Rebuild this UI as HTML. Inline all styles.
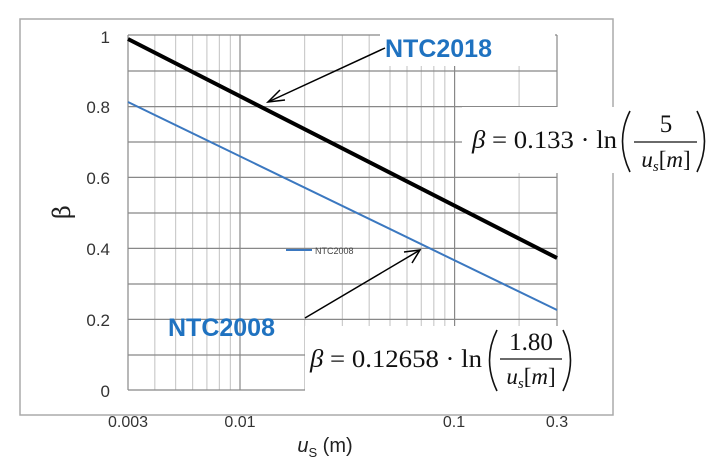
<!DOCTYPE html><html><head><style>body{margin:0;background:#fff}svg{display:block}</style></head><body>
<svg width="720" height="472" xmlns="http://www.w3.org/2000/svg" font-family="Liberation Sans, sans-serif">
<rect x="20" y="19" width="593" height="396" fill="#fff" stroke="#aaa" stroke-width="1.5"/>
<g stroke="#ccc" stroke-width="1.2">
<line x1="154.8" y1="35" x2="154.8" y2="390"/><line x1="175.6" y1="35" x2="175.6" y2="390"/><line x1="192.6" y1="35" x2="192.6" y2="390"/><line x1="206.9" y1="35" x2="206.9" y2="390"/><line x1="219.4" y1="35" x2="219.4" y2="390"/><line x1="230.4" y1="35" x2="230.4" y2="390"/>
<line x1="304.6" y1="35" x2="304.6" y2="390"/><line x1="342.4" y1="35" x2="342.4" y2="390"/><line x1="369.2" y1="35" x2="369.2" y2="390"/><line x1="390" y1="35" x2="390" y2="390"/><line x1="407" y1="35" x2="407" y2="390"/><line x1="421.3" y1="35" x2="421.3" y2="390"/><line x1="433.8" y1="35" x2="433.8" y2="390"/><line x1="444.8" y1="35" x2="444.8" y2="390"/>
<line x1="519.1" y1="35" x2="519.1" y2="390"/>
</g>
<g stroke="#888" stroke-width="1.2">
<line x1="240" y1="35" x2="240" y2="390"/><line x1="454.6" y1="35" x2="454.6" y2="390"/><line x1="128" y1="35" x2="128" y2="390"/><line x1="557" y1="35" x2="557" y2="390"/>
<line x1="128" y1="35" x2="557" y2="35"/><line x1="128" y1="71" x2="557" y2="71"/><line x1="128" y1="106.6" x2="557" y2="106.6"/><line x1="128" y1="142" x2="557" y2="142"/><line x1="128" y1="177.4" x2="557" y2="177.4"/><line x1="128" y1="213" x2="557" y2="213"/><line x1="128" y1="248.4" x2="557" y2="248.4"/><line x1="128" y1="284" x2="557" y2="284"/><line x1="128" y1="319.4" x2="557" y2="319.4"/><line x1="128" y1="355" x2="557" y2="355"/><line x1="128" y1="390" x2="557" y2="390"/>
</g>
<g font-size="17" fill="#333" text-anchor="end">
<text x="110" y="43">1</text><text x="110" y="113">0.8</text><text x="110" y="184">0.6</text><text x="110" y="255">0.4</text><text x="110" y="326">0.2</text><text x="110" y="397">0</text></g>
<g font-size="16" fill="#333" text-anchor="middle">
<text x="128" y="427">0.003</text><text x="240" y="427">0.01</text><text x="454" y="427">0.1</text><text x="557" y="427">0.3</text></g>
<text x="325" y="452" font-size="20" fill="#222" text-anchor="middle"><tspan font-style="italic">u</tspan><tspan font-size="13" dy="5">S</tspan><tspan dy="-5"> (m)</tspan></text>
<text transform="translate(70,212) rotate(-90)" font-size="24" fill="#222" text-anchor="middle" font-family="DejaVu Serif, serif">β</text>
<line x1="128" y1="39" x2="557" y2="258" stroke="#000" stroke-width="4"/>
<line x1="128" y1="102" x2="557" y2="310" stroke="#3b78c0" stroke-width="2"/>
<line x1="286" y1="250" x2="312" y2="250" stroke="#3b78c0" stroke-width="2"/>
<text x="315" y="254" font-size="9" fill="#444">NTC2008</text>
<rect x="380" y="22" width="175" height="44" fill="#fff"/>
<text x="385" y="57" font-size="25" font-weight="bold" fill="#1f72c0">NTC2018</text>
<line x1="385" y1="48" x2="268" y2="102" stroke="#000" stroke-width="1.5"/>
<polyline points="280,90 268,102 285,100" fill="none" stroke="#000" stroke-width="1.5"/>
<rect x="462" y="107" width="253" height="66" fill="#fff"/>
<g font-family="Liberation Serif, serif" fill="#111">
<text x="472" y="148" font-size="25" textLength="145" lengthAdjust="spacingAndGlyphs"><tspan font-style="italic">β</tspan> = 0.133 · ln</text>
<path d="M630,111 Q615,141 630,172" fill="none" stroke="#111" stroke-width="1.6"/>
<path d="M697,111 Q712,141 697,172" fill="none" stroke="#111" stroke-width="1.6"/>
<text x="666" y="132" font-size="25" text-anchor="middle">5</text>
<line x1="634" y1="142" x2="697" y2="142" stroke="#111" stroke-width="1.3"/>
<text x="666" y="167" font-size="23" text-anchor="middle"><tspan font-style="italic">u</tspan><tspan font-style="italic" font-size="15" dy="4">s</tspan><tspan dy="-4">[</tspan><tspan font-style="italic">m</tspan>]</text>
</g>
<text x="168" y="336" font-size="25" font-weight="bold" fill="#1f72c0">NTC2008</text>
<line x1="305" y1="318" x2="420" y2="250" stroke="#000" stroke-width="1.5"/>
<polyline points="404,252 420,250 412,263" fill="none" stroke="#000" stroke-width="1.5"/>
<rect x="305" y="326" width="280" height="66" fill="#fff"/>
<g font-family="Liberation Serif, serif" fill="#111">
<text x="310" y="367" font-size="25" textLength="172" lengthAdjust="spacingAndGlyphs"><tspan font-style="italic">β</tspan> = 0.12658 · ln</text>
<path d="M497,330 Q482,360 497,391" fill="none" stroke="#111" stroke-width="1.6"/>
<path d="M563,330 Q578,360 563,391" fill="none" stroke="#111" stroke-width="1.6"/>
<text x="531" y="350" font-size="25" text-anchor="middle">1.80</text>
<line x1="500" y1="359" x2="562" y2="359" stroke="#111" stroke-width="1.3"/>
<text x="531" y="384" font-size="23" text-anchor="middle"><tspan font-style="italic">u</tspan><tspan font-style="italic" font-size="15" dy="4">s</tspan><tspan dy="-4">[</tspan><tspan font-style="italic">m</tspan>]</text>
</g>
</svg></body></html>
